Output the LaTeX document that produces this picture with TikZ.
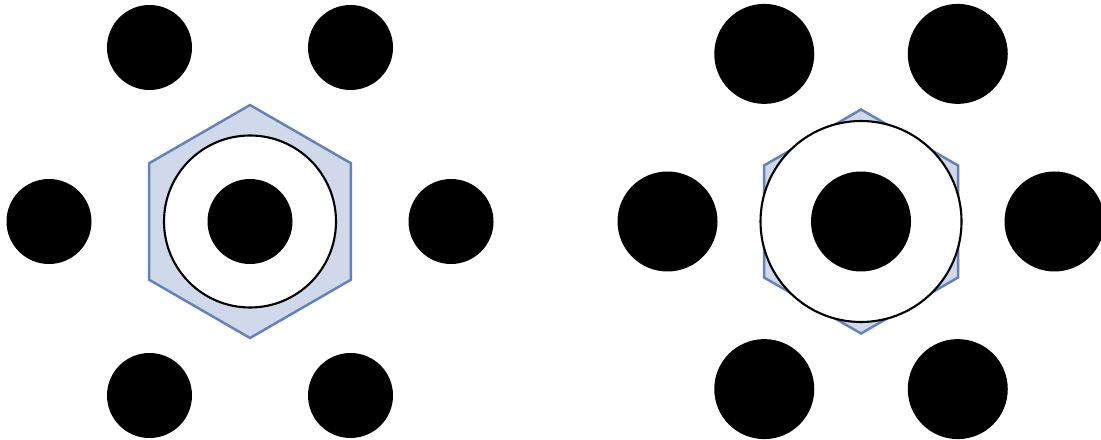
\documentclass[tikz,border=0pt]{standalone}
\usepackage{tikz}
\usetikzlibrary{shapes.geometric}
\definecolor{hexline}{RGB}{98,130,190}
\definecolor{hexfill}{RGB}{207,217,233}

\begin{document}
\begin{tikzpicture}[
      dotsmall/.style={circle, fill=black, inner sep=0pt, minimum size=8.5mm},
      dotbig/.style={circle, fill=black, inner sep=0pt, minimum size=10mm},
      ring/.style={circle, draw=black, line width=0.6pt, fill=white, inner sep=0pt},
      hexa/.style={regular polygon, regular polygon sides=6, shape border rotate=30,
                   draw=hexline, line width=0.7pt, fill=hexfill, inner sep=0pt}]
    \useasboundingbox (0,0) rectangle (11.01,4.39);
    % left: small ring inside the hexagon
    \node[hexa, minimum size=23.3mm] (hexL) at (2.50,2.175) {};
    \node[ring, minimum size=17.2mm] (ringL) at (2.50,2.175) {};
    \node[dotsmall] (cL) at (2.50,2.175) {};
    \node[dotsmall] (eL) at (4.51,2.175) {};
    \node[dotsmall] (neL) at (3.505,3.915) {};
    \node[dotsmall] (nwL) at (1.495,3.915) {};
    \node[dotsmall] (wL) at (0.49,2.175) {};
    \node[dotsmall] (swL) at (1.495,0.435) {};
    \node[dotsmall] (seL) at (3.505,0.435) {};
    % right: large ring over the hexagon
    \node[hexa, minimum size=22.4mm] (hexR) at (8.61,2.175) {};
    \node[ring, minimum size=20.1mm] (ringR) at (8.61,2.175) {};
    \node[dotbig] (cR) at (8.61,2.175) {};
    \node[dotbig] (eR) at (10.545,2.175) {};
    \node[dotbig] (neR) at (9.5775,3.851) {};
    \node[dotbig] (nwR) at (7.6425,3.851) {};
    \node[dotbig] (wR) at (6.675,2.175) {};
    \node[dotbig] (swR) at (7.6425,0.499) {};
    \node[dotbig] (seR) at (9.5775,0.499) {};
  \end{tikzpicture}
\end{document}
